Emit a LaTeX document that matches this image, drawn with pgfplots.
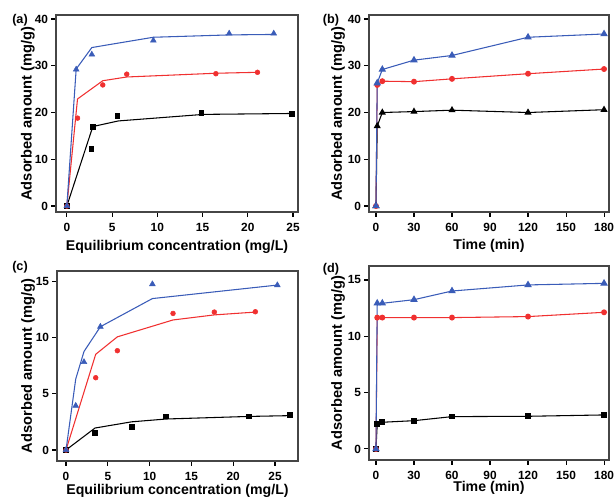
\documentclass[border=0pt]{standalone}
\usepackage{fontspec}
\setmainfont{Liberation Sans}
\usepackage{pgfplots}
\pgfplotsset{compat=1.18}
\definecolor{pblue}{RGB}{58,92,184}
\definecolor{pred}{RGB}{240,48,48}
\definecolor{frame}{RGB}{70,70,70}

\pgfplotsset{
  panel/.style={
    scale only axis,
    anchor=south west,
    axis line style={frame, line width=1.1pt},
    tick align=outside,
    xtick pos=bottom,
    ytick pos=left,
    major tick length=3.5pt,
    tick style={black, line width=0.8pt},
    ticklabel style={font=\fontsize{8.9}{10}\selectfont\bfseries},
    /pgf/number format/assume math mode=true,
    xlabel style={font=\fontsize{10.6}{12}\selectfont\bfseries},
    ylabel style={font=\fontsize{11}{13}\selectfont\bfseries},
    xticklabel style={yshift=-1.5pt},
    yticklabel style={xshift=1pt},
    clip=false,
  },
  fitline/.style={line width=0.8pt, mark=none},
  sq/.style={only marks, mark=square*, mark size=1.75pt, black},
  ci/.style={only marks, mark=*, mark size=1.8pt, pred},
  tr/.style={only marks, mark=triangle*, mark size=2.5pt, pblue},
}

\begin{document}
\begin{tikzpicture}
\useasboundingbox (0,0) rectangle (461.25pt,-376.5pt);

% (a) isotherm
\begin{axis}[panel, at={(42pt,-159pt)}, width=181.5pt, height=147.75pt,
  xmin=-1.2, xmax=25.55, ymin=-1.28, ymax=40.86,
  xtick={0,5,...,25}, ytick={0,10,...,40},
  xlabel={Equilibrium concentration (mg/L)},
  ylabel={Adsorbed amount (mg/g)},
  xlabel style={at={(axis description cs:0.5,-0.176)}, anchor=center},
  ylabel style={at={(axis description cs:-0.116,0.5)}, anchor=center},
]
\addplot[fitline, black] coordinates {(0,0) (2.87,17.0) (5.7,18.2) (15.1,19.6) (25.2,19.8)};
\addplot[fitline, pred] coordinates {(0,0) (1.18,22.9) (3.97,26.8) (6.62,27.6) (16.47,28.4) (21.07,28.6)};
\addplot[fitline, pblue] coordinates {(0,0) (1.03,29.3) (2.76,33.9) (9.56,36.1) (17.94,36.6) (22.87,36.7)};
\addplot[sq] coordinates {(0,0) (2.68,12.2) (2.87,17.0) (5.59,19.3) (14.85,19.9) (24.85,19.7)};
\addplot[ci] coordinates {(0,0) (1.18,18.8) (3.97,25.9) (6.62,28.2) (16.47,28.3) (21.07,28.6)};
\addplot[tr] coordinates {(0,0) (1.03,29.2) (2.76,32.4) (9.56,35.4) (17.94,36.9) (22.87,36.9)};
\end{axis}

% (b) kinetics
\begin{axis}[panel, at={(276.75pt,-159pt)}, width=180pt, height=147.75pt,
  xmin=-5.5, xmax=183.9, ymin=-1.28, ymax=40.86,
  xtick={0,30,...,180}, ytick={0,10,...,40},
  xlabel={Time (min)},
  ylabel={Adsorbed amount (mg/g)},
  xlabel style={at={(axis description cs:0.5,-0.17)}, anchor=center},
  ylabel style={at={(axis description cs:-0.129,0.5)}, anchor=center},
]
\addplot[line width=0.8pt, black, mark=triangle*, mark size=2.3pt] coordinates {(0,0) (1,17.1) (5,20.0) (30,20.2) (60,20.5) (120,20.0) (180,20.6)};
\addplot[line width=0.8pt, pred, mark=*, mark size=1.8pt] coordinates {(0,0) (1,25.9) (5,26.7) (30,26.6) (60,27.2) (120,28.3) (180,29.3)};
\addplot[line width=0.8pt, pblue, mark=triangle*, mark size=2.5pt] coordinates {(0,0) (1,26.3) (5,29.2) (30,31.2) (60,32.2) (120,36.1) (180,36.8)};
\end{axis}

% (c) isotherm
\begin{axis}[panel, at={(42.75pt,-345.75pt)}, width=180.75pt, height=142.5pt,
  xmin=-1.08, xmax=27.75, ymin=-0.98, ymax=15.9,
  xtick={0,5,...,25}, ytick={0,5,10,15},
  xlabel={Equilibrium concentration (mg/L)},
  ylabel={Adsorbed amount (mg/g)},
  xlabel style={at={(axis description cs:0.5,-0.155)}, anchor=center},
  ylabel style={at={(axis description cs:-0.12,0.5)}, anchor=center},
]
\addplot[fitline, black] coordinates {(0,0) (3.47,1.95) (7.85,2.5) (11.96,2.75) (21.9,2.98) (26.8,3.05)};
\addplot[fitline, pred] coordinates {(0,0) (3.55,8.5) (6.14,10.05) (12.8,11.55) (17.74,12.0) (22.65,12.25)};
\addplot[fitline, pblue] coordinates {(0,0) (1.16,6.3) (2.15,8.75) (4.11,10.95) (10.33,13.45) (25.28,14.65)};
\addplot[sq] coordinates {(0,0) (3.47,1.51) (7.85,2.07) (11.96,2.99) (21.9,2.99) (26.8,3.14)};
\addplot[ci] coordinates {(0,0) (3.55,6.42) (6.14,8.82) (12.8,12.13) (17.74,12.25) (22.65,12.28)};
\addplot[tr] coordinates {(0,0) (1.16,3.93) (2.15,7.81) (4.11,10.95) (10.33,14.73) (25.28,14.64)};
\end{axis}

% (d) kinetics
\begin{axis}[panel, at={(276.75pt,-345pt)}, width=180pt, height=145.5pt,
  xmin=-5.5, xmax=183.9, ymin=-0.98, ymax=16.24,
  xtick={0,30,...,180}, ytick={0,5,10,15},
  xlabel={Time (min)},
  ylabel={Adsorbed amount (mg/g)},
  xlabel style={at={(axis description cs:0.5,-0.146)}, anchor=center},
  ylabel style={at={(axis description cs:-0.129,0.5)}, anchor=center},
]
\addplot[line width=0.8pt, black, mark=square*, mark size=1.75pt] coordinates {(0,0) (1,2.22) (5,2.37) (30,2.51) (60,2.87) (120,2.9) (180,3.02)};
\addplot[line width=0.8pt, pred, mark=*, mark size=1.8pt] coordinates {(0,0) (1,11.66) (5,11.66) (30,11.66) (60,11.66) (120,11.75) (180,12.13)};
\addplot[line width=0.8pt, pblue, mark=triangle*, mark size=2.5pt] coordinates {(0,0) (1,12.93) (5,12.93) (30,13.25) (60,14.02) (120,14.56) (180,14.7)};
\end{axis}

\node[font=\fontsize{9.5}{11}\selectfont\bfseries] at (15pt,-15pt) {(a)};
\node[font=\fontsize{9.5}{11}\selectfont\bfseries] at (248.25pt,-15pt) {(b)};
\node[font=\fontsize{9.5}{11}\selectfont\bfseries] at (15pt,-200.25pt) {(c)};
\node[font=\fontsize{9.5}{11}\selectfont\bfseries] at (248.25pt,-201.75pt) {(d)};
\end{tikzpicture}
\end{document}
